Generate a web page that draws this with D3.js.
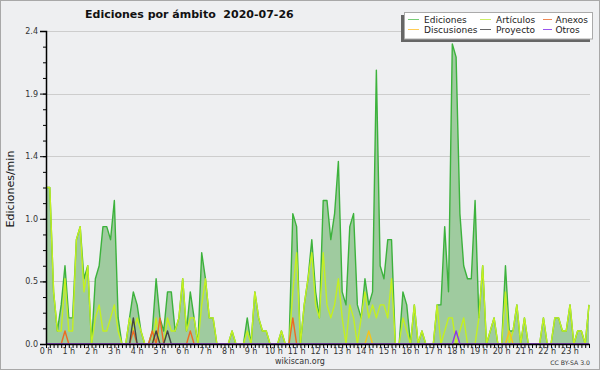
<!DOCTYPE html>
<html><head><meta charset="utf-8">
<script src="https://cdn.jsdelivr.net/npm/d3@7"></script>
<style>html,body{margin:0;padding:0;background:#fff}svg{display:block}</style>
</head><body>
<script>
// ---- data: edits per minute, one value per 10-minute slot (144 slots) ----
const ediciones = [
1.2,1.2,0.4,0.1,0.3,0.6,0.2,0.2,0.8,0.9,0.5,0.6,0,0.5,0.6,0.9,0.9,0.8,1.1,0.2,0,0,0.2,0.4,
0.3,0.1,0,0,0.1,0.5,0.2,0.1,0.4,0.4,0.1,0.2,0.5,0.1,0.4,0.2,0,0.7,0.5,0.2,0.2,0,0,0,
0,0.1,0,0,0,0.2,0,0.4,0.2,0.1,0.1,0,0,0,0.1,0,0,1.0,0.9,0,0.3,0.5,0.8,0.4,
0.2,1.1,1.1,0.8,1.0,1.4,0.4,0.3,0.9,1.0,0.3,0.2,0.5,0.3,0.4,2.1,0.6,0.5,0.8,0.8,0,0,0.4,0.3,
0,0.3,0,0.1,0,0,0,0.3,0.3,0.9,0.4,2.3,2.2,1.0,0.6,0.5,0.5,1.1,0.2,0.6,0,0.1,0.2,0,
0,0.6,0.1,0.1,0.3,0,0.2,0,0,0,0,0.2,0,0,0.2,0.2,0.1,0.1,0.3,0,0.1,0.1,0,0.3];
const articulos = [
1.2,1.2,0.4,0.1,0.1,0.5,0.1,0.1,0.8,0.9,0.4,0.6,0,0.2,0.3,0.1,0.1,0.2,0.3,0.1,0,0,0.2,0.1,
0.2,0.1,0,0,0,0.2,0,0,0.2,0.1,0.1,0.2,0.5,0.1,0.2,0.2,0,0.3,0.5,0.2,0.2,0,0,0,
0,0.1,0,0,0,0.1,0,0.4,0.2,0.1,0.1,0,0,0,0.1,0,0,0.4,0.7,0,0.3,0.5,0.7,0.3,
0.2,0.7,0.3,0.2,0.3,0.5,0.2,0,0.3,0.2,0,0.2,0.4,0.2,0.3,0.2,0.3,0.3,0.2,0.5,0,0,0.2,0.1,
0,0.3,0,0.1,0,0,0,0.3,0,0.1,0.2,0.2,0,0.1,0.2,0,0,0,0.2,0.6,0,0.1,0.2,0,
0,0.4,0,0.1,0.3,0,0.2,0,0,0,0,0.2,0,0,0.2,0.2,0.1,0.1,0.3,0,0.1,0.1,0,0.3];
const anexos = [
0,0,0,0,0,0.1,0,0,0,0,0,0,0,0,0,0,0,0,0,0,0,0,0,0.1,
0,0,0,0,0.1,0,0.2,0,0,0,0,0,0,0,0.1,0,0,0,0,0,0,0,0,0,
0,0,0,0,0,0,0,0,0,0,0,0,0,0,0,0,0,0.2,0,0,0,0,0,0,
0,0,0,0,0,0,0,0,0,0,0,0,0,0,0,0,0,0,0,0,0,0,0,0,
0,0,0,0,0,0,0,0,0,0,0,0,0,0,0,0,0,0,0,0,0,0,0,0,
0,0,0,0,0,0,0,0,0,0,0,0,0,0,0,0,0,0,0,0,0,0,0,0];
const discusiones = [
0,0,0,0,0,0,0,0,0,0,0,0,0,0,0,0,0,0,0,0,0,0,0,0,
0,0,0,0,0,0,0,0,0,0,0,0,0,0,0,0,0,0,0,0,0,0,0,0,
0,0,0,0,0,0,0,0,0,0,0,0,0,0,0,0,0,0,0,0,0,0,0,0,
0,0,0,0,0,0,0,0,0,0,0,0,0,0.1,0,0,0,0,0,0,0,0,0,0,
0,0,0,0,0,0,0,0,0,0,0,0,0,0,0,0,0,0,0,0,0,0,0,0,
0,0,0.1,0,0,0,0,0,0,0,0,0,0,0,0,0,0,0,0,0,0,0,0,0];
const proyecto = [
0,0,0,0,0,0,0,0,0,0,0,0,0,0,0,0,0,0,0,0,0,0,0,0.2,
0,0,0,0,0,0.1,0,0,0.1,0,0,0,0,0,0,0,0,0,0,0,0,0,0,0,
0,0,0,0,0,0,0,0,0,0,0,0,0,0,0,0,0,0,0,0,0,0,0,0,
0,0,0,0,0,0,0,0,0,0,0,0,0,0,0,0,0,0,0,0,0,0,0,0,
0,0,0,0,0,0,0,0,0,0,0,0,0,0,0,0,0,0,0,0,0,0,0,0,
0,0,0,0,0,0,0,0,0,0,0,0,0,0,0,0,0,0,0,0,0,0,0,0];
const otros = [
0,0,0,0,0,0,0,0,0,0,0,0,0,0,0,0,0,0,0,0,0,0,0,0,
0,0,0,0,0,0,0,0,0,0,0,0,0,0,0,0,0,0,0,0,0,0,0,0,
0,0,0,0,0,0,0,0,0,0,0,0,0,0,0,0,0,0,0,0,0,0,0,0,
0,0,0,0,0,0,0,0,0,0,0,0,0,0,0,0,0,0,0,0,0,0,0,0,
0,0,0,0,0,0,0,0,0,0,0,0,0.1,0,0,0,0,0,0,0,0,0,0,0,
0,0,0,0,0,0,0,0,0,0,0,0,0,0,0,0,0,0,0,0,0,0,0,0];
const hourLabels = ["0 h","1 h","2 h","3 h","4 h","5 h","6 h","7 h","8 h","9 h","10 h","11 h",
  "12 h","13 h","14 h","15 h","16 h","17 h","18 h","19 h","20 h","21 h","22 h","23 h"];
const yTicks = [0, 0.48, 0.96, 1.44, 1.92, 2.4];
const legendNames = ["Ediciones","Artículos","Anexos","Discusiones","Proyecto","Otros"];
const title = "Ediciones por ámbito  2020-07-26";

// ---- drawing ----
const W = 600, H = 370;
const svg = d3.select("body").append("svg").attr("width", W).attr("height", H);
const FONT = "DejaVu Sans";
svg.append("rect").attr("x",0.5).attr("y",0.5).attr("width",W-1).attr("height",H-1)
  .attr("fill","#eeeff1").attr("stroke","#a8a8a8");

const n = ediciones.length;
const x = d3.scaleLinear().domain([0, n-1]).range([46, 589]);
const y = d3.scaleLinear().domain([0, 2.4]).range([344, 31]);

// grid
svg.append("g").selectAll("line").data(yTicks.filter(d => d > 0)).join("line")
  .attr("x1", 46).attr("x2", 590).attr("y1", d => Math.round(y(d))+0.5).attr("y2", d => Math.round(y(d))+0.5)
  .attr("stroke","#cdcdcd").attr("stroke-width",1);

// series
const series = [
  {name:"Ediciones", vals: ediciones, color:"#3cb23c", legend:"#77cc77"},
  {name:"Artículos", vals: articulos, color:"#c4f020", legend:"#ccee66"},
  {name:"Anexos", vals: anexos, color:"#ee6a22", legend:"#ee8855"},
  {name:"Discusiones", vals: discusiones, color:"#f5c31c", legend:"#ffcc55"},
  {name:"Proyecto", vals: proyecto, color:"#444444", legend:"#666666"},
  {name:"Otros", vals: otros, color:"#8a3ae8", legend:"#9955ee"}
];
const area = d3.area().x((d,i) => x(i)).y0(y(0)).y1(d => y(d));
const line = d3.line().x((d,i) => x(i)).y(d => y(d));
svg.append("path").datum(ediciones).attr("d", area).attr("fill","#9fcb9f");
series.forEach(s => {
  svg.append("path").datum(s.vals).attr("d", line).attr("fill","none")
    .attr("stroke", s.color).attr("stroke-width", 1.4).attr("stroke-linejoin","round");
});

// axes
const yAxis = d3.axisLeft(y).tickValues(yTicks).tickFormat(d3.format(".1f")).tickSize(6).tickPadding(2);
const yMinor = d3.axisLeft(y).tickValues(d3.range(0, 2.41, 0.12)).tickFormat("").tickSize(3);
const gy2 = svg.append("g").attr("transform","translate(46,0)").call(yMinor);
gy2.select(".domain").remove();
const gy = svg.append("g").attr("transform","translate(46,0)").call(yAxis);
gy.selectAll("text").attr("font-family", FONT).attr("font-size", 8).attr("fill","#333");
gy.select(".domain").attr("stroke","#000").attr("stroke-width",1.5);
const xAxis = d3.axisBottom(x).tickValues(d3.range(n)).tickFormat("").tickSize(4).tickSizeOuter(0);
const gx = svg.append("g").attr("transform","translate(0,344)").call(xAxis);
gx.select(".domain").attr("stroke","#000").attr("stroke-width",1.5).attr("d","M46,0.5H590");
svg.append("g").selectAll("text").data(hourLabels).join("text")
  .attr("x", (d,i) => x(i*6)).attr("y", 353.5).attr("text-anchor","middle")
  .attr("font-family", FONT).attr("font-size", 8).attr("fill","#333").text(d => d);

// titles
svg.append("text").attr("x", 85).attr("y", 18).attr("font-family", FONT).attr("font-weight","bold")
  .attr("font-size", 11).attr("fill","#111").attr("xml:space","preserve").style("white-space","pre").text(title);
svg.append("text").attr("transform","translate(13.5,189) rotate(-90)").attr("text-anchor","middle")
  .attr("font-family", FONT).attr("font-size", 11).attr("fill","#111").text("Ediciones/min");
svg.append("text").attr("x", 300).attr("y", 364).attr("text-anchor","middle")
  .attr("font-family", FONT).attr("font-size", 8).attr("fill","#333").text("wikiscan.org");
svg.append("text").attr("x", 590).attr("y", 365).attr("text-anchor","end")
  .attr("font-family", FONT).attr("font-size", 6.2).attr("fill","#333").text("CC BY-SA 3.0");

// legend
const lg = svg.append("g");
lg.append("rect").attr("x", 401).attr("y", 15).attr("width", 189).attr("height", 27).attr("fill","#666");
lg.append("rect").attr("x", 404.5).attr("y", 12.5).attr("width", 188).attr("height", 26.5)
  .attr("fill","#fff").attr("stroke","#aaa");
const cols = [408, 480, 543];
const textX = [424, 496, 555.5];
const rowsY = [19.5, 29.5];
series.forEach((s, k) => {
  const c = k % 3, r = Math.floor(k / 3);
  const lx = cols[c], lw = c === 2 ? 9 : 11;
  lg.append("line").attr("x1", lx).attr("x2", lx+lw).attr("y1", rowsY[r]).attr("y2", rowsY[r])
    .attr("stroke", s.legend).attr("stroke-width", 1);
  lg.append("text").attr("x", textX[c]).attr("y", rowsY[r] + 3)
    .attr("font-family", FONT).attr("font-size", 9).attr("fill","#222").text(legendNames[k]);
});
</script>
</body></html>
